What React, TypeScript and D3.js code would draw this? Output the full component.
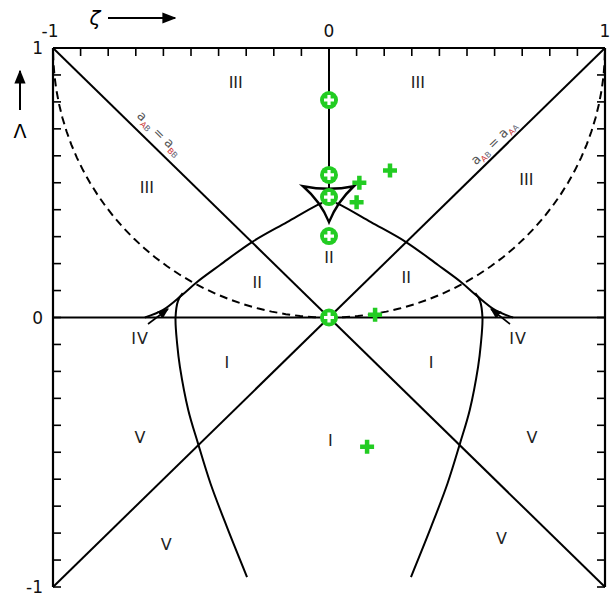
import React from 'react';
import * as d3 from 'd3';

// region labels: [text, zeta, lambda]
const regionLabels: [string, number, number][] = [
  ['III', -0.338, 0.875], ['III', 0.322, 0.875], ['III', -0.66, 0.485], ['III', 0.715, 0.515],
  ['II', 0, 0.225], ['II', -0.26, 0.13], ['II', 0.28, 0.15],
  ['I', -0.37, -0.165], ['I', 0.37, -0.165], ['I', 0.005, -0.455],
  ['V', -0.685, -0.445], ['V', 0.735, -0.445], ['V', -0.59, -0.84], ['V', 0.625, -0.82],
];

// upper boundary curve (left half), from the IV cusp to the deltoid
const curveA: [number, number][] = [
  [-0.667, 0], [-0.601, 0.028], [-0.533, 0.083], [-0.478, 0.132], [-0.395, 0.195],
  [-0.279, 0.28], [-0.152, 0.354], [-0.043, 0.417], [-0.025, 0.425],
];

// lower boundary curve (left half)
const curveB: [number, number][] = [
  [-0.53, 0.09], [-0.547, 0.062], [-0.556, 0], [-0.55, -0.1], [-0.54, -0.184],
  [-0.51, -0.343], [-0.475, -0.466], [-0.43, -0.614], [-0.37, -0.777], [-0.297, -0.963],
];

// deltoid near zeta = 0: horns, tip and the bend of each side
const deltoid = {
  leftHorn: [-0.094, 0.487], rightHorn: [0.09, 0.487], tip: [0, 0.354],
  topBend: [0, 0.468], leftBend: [-0.03, 0.43], rightBend: [0.03, 0.43],
};

// green markers
const circlePts: [number, number][] = [[0, 0.807], [0, 0.529], [0, 0.447], [0, 0.302], [0, 0]];
const plusPts: [number, number][] = [[0.11, 0.5], [0.221, 0.545], [0.1, 0.428], [0.167, 0.01], [0.138, -0.48]];

const tickLabels = ['-1', '0', '1'];
const tickValues = [-1, 0, 1];

const W = 613, H = 597;
const x = d3.scaleLinear().domain([-1, 1]).range([53, 605]);
const y = d3.scaleLinear().domain([-1, 1]).range([587, 48]);
const ticks = x.ticks(20);

const green = '#22cc22';
const font = "'DejaVu Sans', sans-serif";

export default function App() {
  const line = d3.line<[number, number]>().x(d => x(d[0])).y(d => y(d[1])).curve(d3.curveCatmullRom);
  const mirror = (pts: [number, number][]) => pts.map(p => [-p[0], p[1]] as [number, number]);

  // dashed arcs: circle centred at (0,1), radius 1
  const arc = (sign: number) => {
    const pts: [number, number][] = d3.range(0, 91, 3).map(a => {
      const t = (a * Math.PI) / 180;
      return [sign * Math.sin(t), 1 - Math.cos(t)];
    });
    return d3.line<[number, number]>().x(d => x(d[0])).y(d => y(d[1]))(pts) as string;
  };

  const P = (p: number[]) => `${x(p[0])},${y(p[1])}`;
  const { leftHorn, rightHorn, tip, topBend, leftBend, rightBend } = deltoid;
  const deltoidPath =
    `M${P(leftHorn)} Q${P(topBend)} ${P(rightHorn)} Q${P(rightBend)} ${P(tip)} Q${P(leftBend)} ${P(leftHorn)} Z`;

  const angL = (Math.atan2(y(-1) - y(1), x(1) - x(-1)) * 180) / Math.PI;

  const sub = (a: string, b: string) => (
    <>
      <tspan fill="#c33">{a}</tspan>
      <tspan fill="#667">{b}</tspan>
    </>
  );

  return (
    <svg width={W} height={H} style={{ position: 'absolute', left: 0, top: 0, background: '#fff' }}>
      <defs>
        <marker id="ah" viewBox="0 0 10 10" refX="9" refY="5" markerWidth="7" markerHeight="7" orient="auto">
          <path d="M0,1 L10,5 L0,9 Z" fill="#000" />
        </marker>
      </defs>

      {/* frame (top, left, right) */}
      <g stroke="#000" strokeWidth={2.2} fill="none">
        <line x1={x(-1)} x2={x(1)} y1={y(1)} y2={y(1)} />
        <line x1={x(-1)} x2={x(-1)} y1={y(1)} y2={y(-1)} />
        <line x1={x(1)} x2={x(1)} y1={y(1)} y2={y(-1)} />
      </g>
      <g stroke="#000" strokeWidth={1.6}>
        {ticks.map(t => (
          <g key={t}>
            <line x1={x(t)} x2={x(t)} y1={y(1)} y2={y(1) + 8} />
            <line x1={x(-1)} x2={x(-1) + 8} y1={y(t)} y2={y(t)} />
            <line x1={x(1)} x2={x(1) - 8} y1={y(t)} y2={y(t)} />
          </g>
        ))}
      </g>

      {/* tick labels */}
      <g fontFamily={font} fontSize={17} fill="#111">
        {tickValues.map((v, i) => (
          <text key={'t' + v} x={x(v) - (v < 0 ? 3 : 0)} y={37} textAnchor="middle">{tickLabels[i]}</text>
        ))}
        {tickValues.map((v, i) => (
          <text key={'l' + v} x={43} y={y(v) + 6} textAnchor="end">{tickLabels[i]}</text>
        ))}
      </g>

      {/* axis titles */}
      <text x={95} y={25} fontFamily={font} fontSize={20} fontStyle="italic" textAnchor="middle">ζ</text>
      <line x1={108} x2={175} y1={18} y2={18} stroke="#000" strokeWidth={2} markerEnd="url(#ah)" />
      <text x={20} y={138} fontFamily={font} fontSize={19} textAnchor="middle">Λ</text>
      <line x1={20} x2={20} y1={110} y2={71} stroke="#000" strokeWidth={2} markerEnd="url(#ah)" />

      {/* diagonals and axes through origin */}
      <g stroke="#000" strokeWidth={2} fill="none">
        <line x1={x(-1)} y1={y(1)} x2={x(1)} y2={y(-1)} />
        <line x1={x(1)} y1={y(1)} x2={x(-1)} y2={y(-1)} />
        <line x1={x(-1)} y1={y(0)} x2={x(1)} y2={y(0)} />
        <line x1={x(0)} y1={y(1)} x2={x(0)} y2={y(0.475)} />
        <path d={line(curveA) as string} />
        <path d={line(mirror(curveA)) as string} />
        <path d={line(curveB) as string} />
        <path d={line(mirror(curveB)) as string} />
        <path d={deltoidPath} strokeWidth={2.4} strokeLinejoin="miter" />
        <path d={arc(-1)} strokeDasharray="8 5" />
        <path d={arc(1)} strokeDasharray="8 5" />
      </g>

      {/* IV arrows */}
      <line x1={148} y1={324} x2={168} y2={309} stroke="#000" strokeWidth={1.6} markerEnd="url(#ah)" />
      <line x1={510} y1={324} x2={491} y2={309} stroke="#000" strokeWidth={1.6} markerEnd="url(#ah)" />

      {/* region labels */}
      <g fontFamily={font} fontSize={16} fill="#222" textAnchor="middle">
        {regionLabels.map(([t, zx, ly], i) => (
          <text key={i} x={x(zx)} y={y(ly) + 6}>{t}</text>
        ))}
        <text x={140} y={344} letterSpacing={1}>IV</text>
        <text x={518} y={344} letterSpacing={1}>IV</text>
      </g>

      {/* diagonal labels */}
      <g fontFamily={font} fill="#555">
        <text transform={`translate(159,134) rotate(${angL})`} textAnchor="middle" dominantBaseline="middle" fontSize={13}>
          a<tspan fontSize={8} dy={4}>{sub('A', 'B')}</tspan>
          <tspan dy={-4}> = </tspan>a<tspan fontSize={8} dy={4}>{sub('B', 'B')}</tspan>
        </text>
        <text transform={`translate(494,143) rotate(${-angL})`} textAnchor="middle" dominantBaseline="middle" fontSize={13}>
          a<tspan fontSize={8} dy={4}>{sub('A', 'B')}</tspan>
          <tspan dy={-4}> = </tspan>a<tspan fontSize={8} dy={4}>{sub('A', 'A')}</tspan>
        </text>
      </g>

      {/* green markers */}
      {circlePts.map(([a, b], i) => (
        <g key={'c' + i} transform={`translate(${x(a)},${y(b)})`}>
          <circle r={9} fill={green} />
          <path d="M-5,0 H5 M0,-5 V5" stroke="#fff" strokeWidth={3.2} />
        </g>
      ))}
      {plusPts.map(([a, b], i) => (
        <path key={'p' + i} transform={`translate(${x(a)},${y(b)})`} d="M-7,0 H7 M0,-7 V7" stroke={green} strokeWidth={4.5} />
      ))}
    </svg>
  );
}
